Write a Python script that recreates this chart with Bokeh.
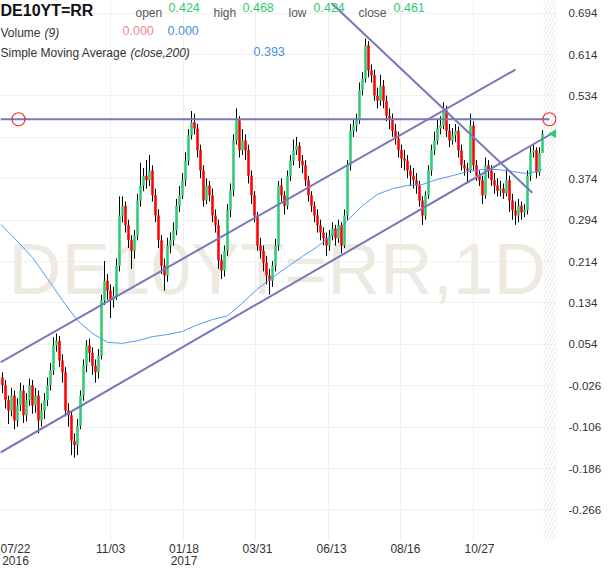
import math
from bokeh.plotting import figure
from bokeh.models import Range1d, FixedTicker, PrintfTickFormatter, Label, ColumnDataSource
from bokeh.embed import file_html
from bokeh.resources import INLINE

# ---------------- data ----------------
symbol = "DE10YT=RR"
interval = "1D"

open_ = [
    -0.010, -0.025, -0.054, -0.074, -0.045, -0.093, -0.064, -0.035, -0.083, -0.054,
    -0.025, -0.064, -0.045, -0.093, -0.074, -0.054, -0.025, 0.004, 0.052, 0.061,
    0.023, 0.000, -0.074, -0.083, -0.132, -0.141, -0.103, -0.045, 0.013, 0.052,
    0.038, 0.013, 0.000, 0.032, 0.139, 0.177, 0.158, 0.139, 0.148, 0.206,
    0.303, 0.322, 0.284, 0.255, 0.235, 0.264, 0.332, 0.361, 0.380, 0.371,
    0.390, 0.342, 0.303, 0.255, 0.206, 0.187, 0.245, 0.255, 0.274, 0.322,
    0.342, 0.371, 0.409, 0.458, 0.483, 0.471, 0.429, 0.390, 0.332, 0.361,
    0.342, 0.303, 0.284, 0.216, 0.197, 0.235, 0.313, 0.351, 0.448, 0.487,
    0.429, 0.448, 0.429, 0.380, 0.342, 0.303, 0.245, 0.235, 0.212, 0.187,
    0.177, 0.206, 0.245, 0.361, 0.342, 0.322, 0.380, 0.409, 0.429, 0.438,
    0.409, 0.400, 0.371, 0.342, 0.322, 0.303, 0.284, 0.270, 0.259, 0.245,
    0.264, 0.278, 0.259, 0.284, 0.245, 0.303, 0.400, 0.467, 0.477, 0.487,
    0.545, 0.568, 0.632, 0.583, 0.574, 0.535, 0.525, 0.554, 0.525, 0.496,
    0.490, 0.467, 0.452, 0.429, 0.413, 0.409, 0.390, 0.380, 0.371, 0.361,
    0.332, 0.303, 0.342, 0.390, 0.429, 0.448, 0.471, 0.477, 0.506, 0.467,
    0.448, 0.458, 0.467, 0.429, 0.400, 0.394, 0.390, 0.477, 0.400, 0.380,
    0.371, 0.342, 0.400, 0.390, 0.371, 0.361, 0.351, 0.355, 0.346, 0.371,
    0.332, 0.313, 0.303, 0.322, 0.309, 0.313, 0.380, 0.425, 0.429, 0.386,
    0.424,
]
high = [
    0.000, -0.015, -0.045, -0.030, -0.035, -0.050, -0.020, -0.025, -0.040, -0.012,
    -0.015, -0.030, -0.035, -0.060, -0.040, -0.010, 0.018, 0.068, 0.075, 0.070,
    0.035, 0.010, -0.060, -0.075, -0.118, -0.090, -0.035, 0.025, 0.062, 0.065,
    0.048, 0.025, 0.045, 0.150, 0.215, 0.190, 0.170, 0.165, 0.220, 0.340,
    0.340, 0.330, 0.295, 0.265, 0.275, 0.345, 0.405, 0.395, 0.410, 0.420,
    0.400, 0.355, 0.315, 0.265, 0.220, 0.260, 0.270, 0.290, 0.335, 0.360,
    0.385, 0.425, 0.470, 0.505, 0.500, 0.480, 0.440, 0.400, 0.375, 0.370,
    0.355, 0.315, 0.295, 0.228, 0.245, 0.325, 0.365, 0.460, 0.510, 0.495,
    0.470, 0.460, 0.440, 0.390, 0.350, 0.310, 0.260, 0.245, 0.225, 0.200,
    0.215, 0.258, 0.370, 0.375, 0.350, 0.390, 0.420, 0.450, 0.455, 0.445,
    0.420, 0.410, 0.380, 0.350, 0.330, 0.315, 0.295, 0.280, 0.270, 0.275,
    0.290, 0.285, 0.295, 0.290, 0.315, 0.410, 0.480, 0.490, 0.500, 0.560,
    0.580, 0.645, 0.640, 0.595, 0.585, 0.550, 0.575, 0.565, 0.535, 0.510,
    0.500, 0.480, 0.465, 0.440, 0.430, 0.420, 0.400, 0.395, 0.385, 0.370,
    0.340, 0.350, 0.400, 0.440, 0.465, 0.490, 0.495, 0.522, 0.515, 0.480,
    0.472, 0.480, 0.475, 0.440, 0.410, 0.405, 0.500, 0.485, 0.410, 0.390,
    0.380, 0.415, 0.410, 0.400, 0.385, 0.375, 0.370, 0.365, 0.395, 0.380,
    0.345, 0.330, 0.335, 0.330, 0.325, 0.390, 0.435, 0.440, 0.435, 0.435,
    0.468,
]
low = [
    -0.040, -0.070, -0.100, -0.085, -0.110, -0.105, -0.075, -0.098, -0.095, -0.065,
    -0.080, -0.078, -0.118, -0.105, -0.090, -0.065, -0.035, -0.005, 0.040, 0.010,
    -0.020, -0.085, -0.105, -0.160, -0.165, -0.160, -0.110, -0.055, 0.000, 0.020,
    -0.005, -0.020, -0.012, 0.025, 0.130, 0.140, 0.105, 0.125, 0.140, 0.195,
    0.290, 0.270, 0.240, 0.200, 0.220, 0.255, 0.320, 0.350, 0.355, 0.360,
    0.330, 0.290, 0.240, 0.190, 0.158, 0.175, 0.230, 0.245, 0.265, 0.310,
    0.335, 0.360, 0.400, 0.450, 0.460, 0.415, 0.375, 0.320, 0.325, 0.330,
    0.290, 0.270, 0.200, 0.180, 0.185, 0.225, 0.300, 0.340, 0.440, 0.415,
    0.420, 0.410, 0.365, 0.325, 0.290, 0.235, 0.220, 0.195, 0.170, 0.150,
    0.165, 0.195, 0.235, 0.330, 0.305, 0.315, 0.370, 0.400, 0.420, 0.395,
    0.385, 0.360, 0.330, 0.310, 0.290, 0.270, 0.255, 0.245, 0.225, 0.235,
    0.255, 0.245, 0.250, 0.230, 0.240, 0.295, 0.390, 0.455, 0.465, 0.480,
    0.535, 0.560, 0.570, 0.560, 0.525, 0.510, 0.515, 0.510, 0.485, 0.470,
    0.455, 0.440, 0.415, 0.395, 0.390, 0.375, 0.360, 0.355, 0.345, 0.320,
    0.285, 0.295, 0.335, 0.380, 0.420, 0.440, 0.460, 0.470, 0.455, 0.435,
    0.440, 0.445, 0.415, 0.390, 0.380, 0.365, 0.385, 0.390, 0.370, 0.360,
    0.325, 0.335, 0.375, 0.360, 0.345, 0.340, 0.340, 0.335, 0.340, 0.310,
    0.295, 0.285, 0.290, 0.295, 0.300, 0.305, 0.370, 0.415, 0.375, 0.380,
    0.424,
]
close = [
    -0.025, -0.054, -0.074, -0.045, -0.093, -0.064, -0.035, -0.083, -0.054, -0.025,
    -0.064, -0.045, -0.093, -0.074, -0.054, -0.025, 0.004, 0.052, 0.061, 0.023,
    0.000, -0.074, -0.083, -0.132, -0.141, -0.103, -0.045, 0.013, 0.052, 0.038,
    0.013, 0.000, 0.032, 0.139, 0.177, 0.158, 0.139, 0.148, 0.206, 0.303,
    0.322, 0.284, 0.255, 0.235, 0.264, 0.332, 0.361, 0.380, 0.371, 0.390,
    0.342, 0.303, 0.255, 0.206, 0.187, 0.245, 0.255, 0.274, 0.322, 0.342,
    0.371, 0.409, 0.458, 0.483, 0.471, 0.429, 0.390, 0.332, 0.361, 0.342,
    0.303, 0.284, 0.216, 0.197, 0.235, 0.313, 0.351, 0.448, 0.487, 0.429,
    0.448, 0.429, 0.380, 0.342, 0.303, 0.245, 0.235, 0.212, 0.187, 0.177,
    0.206, 0.245, 0.361, 0.342, 0.322, 0.380, 0.409, 0.429, 0.438, 0.409,
    0.400, 0.371, 0.342, 0.322, 0.303, 0.284, 0.270, 0.259, 0.245, 0.264,
    0.278, 0.259, 0.284, 0.245, 0.303, 0.400, 0.467, 0.477, 0.487, 0.545,
    0.568, 0.632, 0.583, 0.574, 0.535, 0.525, 0.554, 0.525, 0.496, 0.490,
    0.467, 0.452, 0.429, 0.413, 0.409, 0.390, 0.380, 0.371, 0.361, 0.332,
    0.303, 0.342, 0.390, 0.429, 0.448, 0.471, 0.477, 0.506, 0.467, 0.448,
    0.458, 0.467, 0.429, 0.400, 0.394, 0.390, 0.477, 0.400, 0.380, 0.371,
    0.342, 0.400, 0.390, 0.371, 0.361, 0.351, 0.355, 0.346, 0.371, 0.332,
    0.313, 0.303, 0.322, 0.309, 0.313, 0.380, 0.425, 0.429, 0.386, 0.424,
    0.461,
]

# 200-period simple moving average (bar index, value)
sma_idx = [-0.6, 4, 10, 15, 20, 25, 30, 35, 40, 45, 50, 55, 60, 65, 70, 75, 80, 85, 90, 95,
           100, 105, 110, 115, 120, 125, 130, 135, 140, 145, 150, 155, 160, 165, 170, 175, 178, 180]
sma_val = [0.286, 0.259, 0.222, 0.181, 0.139, 0.100, 0.075, 0.058, 0.056, 0.061, 0.069, 0.073,
           0.079, 0.092, 0.102, 0.109, 0.134, 0.161, 0.183, 0.204, 0.224, 0.243, 0.266, 0.293,
           0.322, 0.344, 0.355, 0.361, 0.363, 0.373, 0.380, 0.388, 0.392, 0.392, 0.388, 0.384,
           0.388, 0.393]

# drawn trend lines (bar index, value)
hline_x = [-0.7, 182.3]
hline_y = [0.489, 0.489]
hline_marks_x = [5.33, 182.3]
upper_x = [-0.7, 171.0]
upper_y = [0.019, 0.585]
lower_x = [-0.7, 183.0]
lower_y = [-0.155, 0.461]
desc_x = [109.7, 176.6]
desc_y = [0.713, 0.347]

# axis ticks
x_tick_idx = [4, 36, 60.5, 85, 109.7, 134.3, 159]
x_tick_labels = ["07/22\n2016", "11/03", "01/18\n2017", "03/31", "06/13", "08/16", "10/27"]
x_grid_idx = [36, 60.3, 84.3, 108.7, 132.7, 157]
y_ticks = [0.694, 0.614, 0.534, 0.374, 0.294, 0.214, 0.134, 0.054, -0.026, -0.106, -0.186, -0.266]
y_grid = [0.694, 0.614, 0.534, 0.454, 0.374, 0.294, 0.214, 0.134, 0.054, -0.026, -0.106, -0.186, -0.266]

# header values
vol_vals = [0.000, 0.000]
sma_last = 0.393

# ---------------- layout helpers ----------------
PX_X = 3.0          # pixels per bar
X0 = -2.0 / 3.0     # bar index at the left frame edge
Y_TOP = 0.7185      # value at the top frame edge
PX_Y = 517.5        # pixels per unit of yield
FRAME_W, FRAME_H = 556, 540


def sx(px):
    return X0 + px / PX_X


def sy(py):
    return Y_TOP - py / PX_Y


FONT = "Liberation Sans"
GREEN = "#2ecc71"
RED = "#ff0000"
TREND = "#7777b9"
BLUE = "#4a90e2"

p = figure(frame_width=FRAME_W, frame_height=FRAME_H,
           x_range=Range1d(sx(0), sx(FRAME_W)), y_range=Range1d(sy(FRAME_H), Y_TOP),
           y_axis_location="right", output_backend="svg", toolbar_location=None,
           min_border_left=0, min_border_top=0, min_border_right=54, min_border_bottom=28)
p.outline_line_color = None
p.background_fill_color = "white"
p.border_fill_color = "white"

# grids
p.xgrid.ticker = FixedTicker(ticks=x_grid_idx)
p.ygrid.ticker = FixedTicker(ticks=y_grid)
p.xgrid.grid_line_color = "#f0f0f0"
p.ygrid.grid_line_color = "#f0f0f0"

# axes
xa = p.xaxis[0]
xa.ticker = FixedTicker(ticks=x_tick_idx)
xa.major_label_overrides = {t: l for t, l in zip(x_tick_idx, x_tick_labels)}
xa.axis_line_color = None
xa.major_tick_line_color = None
xa.minor_tick_line_color = None
xa.major_label_standoff = -5
xa.major_label_text_font = FONT
xa.major_label_text_font_size = "12px"
xa.major_label_text_line_height = 0.88
xa.major_label_text_color = "#333333"

ya = p.yaxis[0]
ya.ticker = FixedTicker(ticks=y_ticks)
ya.formatter = PrintfTickFormatter(format="%.3f")
ya.axis_line_color = None
ya.major_tick_line_color = None
ya.minor_tick_line_color = None
ya.major_label_standoff = 6
ya.major_label_text_font = FONT
ya.major_label_text_font_size = "11.5px"
ya.major_label_text_color = "#333333"

# watermark
p.add_layout(Label(x=sx(277), y=sy(268), text=f"{symbol},{interval}", text_font=FONT,
                   text_font_size="73px", text_color="#eee9e1", text_align="center",
                   text_baseline="middle", level="underlay"))

# hatched "future" area right of the last bar
n = len(close)
p.quad(left=[n - 1 + 0.35], right=[n + 10], bottom=[-2], top=[2], fill_alpha=0,
       line_color=None, hatch_pattern="/", hatch_color="#e6e6e6", hatch_scale=7,
       hatch_weight=1)

# candles
idx = list(range(n))
colors = [GREEN if c >= o else RED for o, c in zip(open_, close)]
src = ColumnDataSource(dict(x=idx, o=open_, h=high, l=low, c=close,
                            top=[max(o, c) for o, c in zip(open_, close)],
                            bot=[min(o, c) for o, c in zip(open_, close)],
                            col=colors))
p.segment(x0="x", y0="l", x1="x", y1="h", source=src, line_color="black", line_width=1)
p.vbar(x="x", width=0.85, top="top", bottom="bot", source=src, fill_color="col",
       line_color=None)

# moving average
p.line(sma_idx, sma_val, line_color="#4d9bf7", line_width=1)

# trend lines
p.line(hline_x, hline_y, line_color=TREND, line_width=2)
p.line(upper_x, upper_y, line_color=TREND, line_width=2)
p.line(lower_x, lower_y, line_color=TREND, line_width=2)
p.line(desc_x, desc_y, line_color=TREND, line_width=2)
p.scatter(hline_marks_x, hline_y, marker="circle", size=13, fill_color="white",
          fill_alpha=0.0, line_color="#e8302f", line_width=1.2)

# last price marker
p.scatter([sx(553)], [close[-1]], marker="triangle", angle=math.pi / 2, size=9,
          fill_color=GREEN, line_color=None)
p.add_layout(Label(x=sx(583), y=close[-1], text=f"{close[-1]:.3f}", text_font=FONT,
                   text_font_size="12px", text_font_style="bold", text_color="white",
                   text_align="center", text_baseline="middle", background_fill_color=GREEN,
                   padding=dict(left=10, right=10, top=2, bottom=2), border_radius=3,
                   level="overlay"))

# header / legend texts


def hdr(text, px, py, size="12px", color="#333333", style="normal"):
    p.add_layout(Label(x=sx(px), y=sy(py), text=text, text_font=FONT, text_font_size=size,
                       text_color=color, text_font_style=style, text_align="left",
                       text_baseline="middle", level="overlay"))


hdr(symbol, 0, 10, size="16px", color="#111111", style="bold")
hdr("open", 135, 12, color="#555555")
hdr(f"{open_[-1]:.3f}", 168, 7, size="12.5px", color=GREEN)
hdr("high", 213, 12, color="#555555")
hdr(f"{high[-1]:.3f}", 242, 7, size="12.5px", color=GREEN)
hdr("low", 288, 12, color="#555555")
hdr(f"{low[-1]:.3f}", 313, 7, size="12.5px", color=GREEN)
hdr("close", 358, 12, color="#555555")
hdr(f"{close[-1]:.3f}", 393, 7, size="12.5px", color=GREEN)
hdr("Volume", 0, 32)
hdr("(9)", 44, 32, style="italic")
hdr(f"{vol_vals[0]:.3f}", 122, 30, size="12.5px", color="#f08888")
hdr(f"{vol_vals[1]:.3f}", 167, 30, size="12.5px", color=BLUE)
hdr("Simple Moving Average", 0, 52)
hdr("(close,200)", 130, 52, style="italic")
hdr(f"{sma_last:.3f}", 253, 51, size="12.5px", color=BLUE)

open("out.html", "w").write(file_html(p, INLINE))
